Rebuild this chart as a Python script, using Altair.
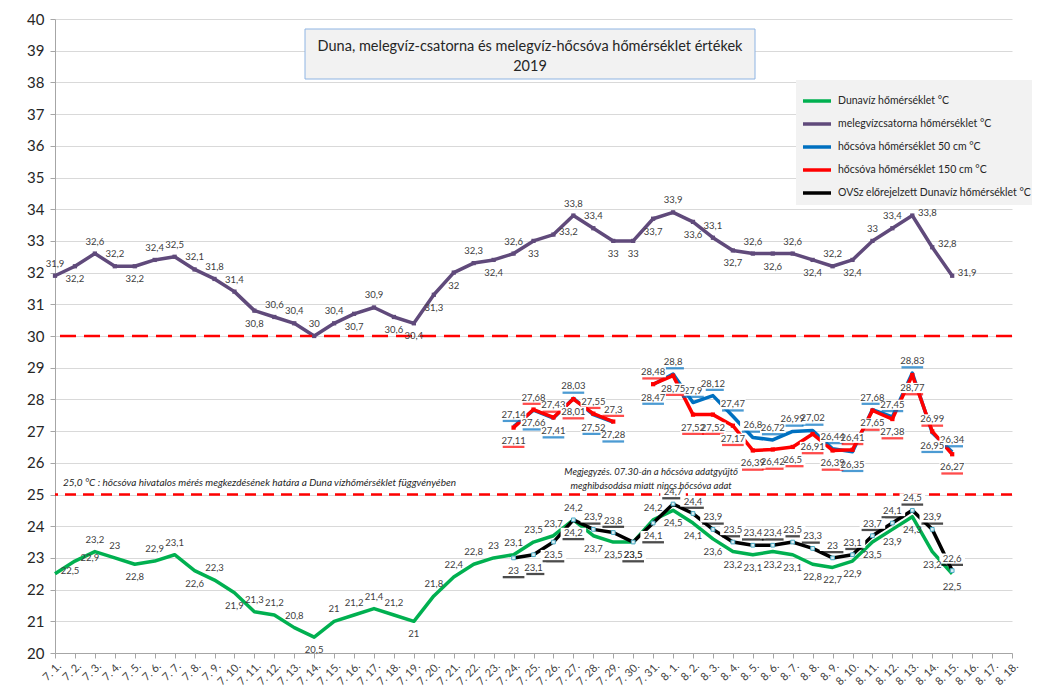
import altair as alt
import pandas as pd

FONT = "Lato"

# ---------------- data ----------------
days = [f"7. {d}." for d in range(1, 32)] + [f"8. {d}." for d in range(1, 19)]

S_GREEN = "Dunavíz hőmérséklet °C"
S_PURPLE = "melegvízcsatorna hőmérséklet °C"
S_BLUE = "hőcsóva hőmérséklet 50 cm °C"
S_RED = "hőcsóva hőmérséklet 150 cm °C"
S_BLACK = "OVSz előrejelzett Dunavíz hőmérséklet °C"
series_names = [S_GREEN, S_PURPLE, S_BLUE, S_RED, S_BLACK]
series_colors = ["#00b050", "#604a7b", "#0070c0", "#ff0000", "#000000"]

dunaviz = [22.5, 22.9, 23.2, 23.0, 22.8, 22.9, 23.1, 22.6, 22.3, 21.9, 21.3, 21.2, 20.8, 20.5, 21.0,
           21.2, 21.4, 21.2, 21.0, 21.8, 22.4, 22.8, 23.0, 23.1, 23.5, 23.7, 24.2, 23.7, 23.5, 23.5, 24.2,
           24.5, 24.1, 23.6, 23.2, 23.1, 23.2, 23.1, 22.8, 22.7, 22.9, 23.5, 23.9, 24.3, 23.2, 22.5]
melegviz = [31.9, 32.2, 32.6, 32.2, 32.2, 32.4, 32.5, 32.1, 31.8, 31.4, 30.8, 30.6, 30.4, 30.0, 30.4,
            30.7, 30.9, 30.6, 30.4, 31.3, 32.0, 32.3, 32.4, 32.6, 33.0, 33.2, 33.8, 33.4, 33.0, 33.0, 33.7,
            33.9, 33.6, 33.1, 32.7, 32.6, 32.6, 32.6, 32.4, 32.2, 32.4, 33.0, 33.4, 33.8, 32.8, 31.9]
hocsova50 = [None] * 23 + [27.14, 27.66, 27.41, 28.03, 27.52, 27.28, None, 28.47,
                           28.8, 27.9, 28.12, 27.47, 26.8, 26.72, 26.99, 27.02, 26.44, 26.35, 27.68,
                           27.45, 28.83, 26.95, 26.34]
hocsova150 = [None] * 23 + [27.11, 27.68, 27.43, 28.01, 27.55, 27.3, None, 28.48,
                            28.75, 27.52, 27.52, 27.17, 26.39, 26.42, 26.5, 26.91, 26.39, 26.41, 27.65,
                            27.38, 28.77, 26.99, 26.27]
ovsz = [None] * 23 + [23.0, 23.1, 23.5, 24.2, 23.9, 23.8, 23.5, 24.1,
                      24.7, 24.4, 23.9, 23.5, 23.4, 23.4, 23.5, 23.3, 23.0, 23.1, 23.7, 24.1, 24.5, 23.9, 22.6]

y_ticks = list(range(20, 41))
threshold_values = [30, 25]

# label sides (A = above, B = below, R = right) for the two long series
green_sides = "RRAABAABABAAABAAAABAAAAAAAABBBA" + "BBBBBBBBBBBBBBB"
purple_sides = "ABAABAAAAABAAAABABBBBABABRAABBB" + "ABABABABABAARRR"

TITLE = ["Duna, melegvíz-csatorna és melegvíz-hőcsóva hőmérséklet értékek", "2019"]
NOTE_25 = "25,0 °C : hőcsóva hivatalos mérés megkezdésének határa a Duna vízhőmérséklet függvényében"
NOTE_GAP = ["Megjegyzés. 07.30-án a  hőcsóva adatgyűjtő", "meghibásodása miatt nincs hőcsóva adat"]


def fmt(v):
    return f"{v:g}".replace(".", ",")


def pair_side(a, b, tie_above):
    if a > b:
        return "A"
    if a < b:
        return "B"
    return "A" if tie_above else "B"


rows = []
for name, vals in [(S_GREEN, dunaviz), (S_PURPLE, melegviz), (S_BLUE, hocsova50),
                   (S_RED, hocsova150), (S_BLACK, ovsz)]:
    seg = 0
    for i, v in enumerate(vals):
        if v is None:
            seg += 1
            continue
        boxed = 0
        if name == S_GREEN:
            side = green_sides[i]
        elif name == S_PURPLE:
            side = purple_sides[i]
        elif name == S_BLUE:
            side = pair_side(v, hocsova150[i], True)
            boxed = 1
        elif name == S_RED:
            side = pair_side(v, hocsova50[i], True)
            boxed = 1
        else:
            side = pair_side(v, dunaviz[i], False)
            boxed = 1
        rows.append(dict(day=days[i], series=name, value=v, seg=seg, side=side,
                         label=fmt(v), boxed=boxed))
df = pd.DataFrame(rows)

# ---------------- encodings ----------------
X = alt.X("day:N", sort=days, title=None,
          scale=alt.Scale(type="point", domain=days, padding=0),
          axis=alt.Axis(labelAngle=-45, labelFontSize=11, labelColor="#404040", tickSize=5,
                        grid=False, labelPadding=2, labelAlign="right", labelBaseline="top"))
Y_SCALE = alt.Scale(domain=[20, 40], nice=False, zero=False)
Y_AXIS = alt.Axis(values=y_ticks, tickCount=len(y_ticks), labelFontSize=15,
                  labelColor="#262626", tickSize=5, labelPadding=6, grid=True,
                  labelOverlap=False, format="d")
Y = alt.Y("value:Q", title=None, scale=Y_SCALE, axis=Y_AXIS)
COLOR = alt.Color("series:N", scale=alt.Scale(domain=series_names, range=series_colors),
                  legend=alt.Legend(title=None))

base = alt.Chart(df)

lines = base.mark_line(strokeWidth=3.5, strokeJoin="round").encode(
    x=X, y=Y, color=COLOR, detail="seg:N")

sq_markers = base.transform_filter(
    alt.FieldOneOfPredicate(field="series", oneOf=[S_PURPLE, S_RED])
).mark_point(shape="square", filled=True, size=18, opacity=1).encode(x=X, y=Y, color=COLOR)

black_markers = base.transform_filter(alt.datum.series == S_BLACK).mark_point(
    shape="square", filled=True, fill="#dbeef4", stroke="#4bacc6", strokeWidth=1,
    size=14, opacity=1).encode(x=X, y=Y)

thr_df = pd.DataFrame({"value": threshold_values, "kind": ["t30", "t25"]})
thr30 = alt.Chart(thr_df).transform_filter(alt.datum.kind == "t30").mark_rule(
    color="#ff0000", strokeWidth=2.5, strokeDash=[16, 8]).encode(y=Y)
thr25 = alt.Chart(thr_df).transform_filter(alt.datum.kind == "t25").mark_rule(
    color="#ff0000", strokeWidth=2.5, strokeDash=[11, 7]).encode(y=Y)

BOX = "M-1,-0.4L1,-0.4L1,0.4L-1,0.4Z"
BAR = "M-0.85,-0.11L0.85,-0.11L0.85,0.11L-0.85,0.11Z"
offsets = {"A": (0, -12), "B": (0, 13), "R": (15, -3)}


def label_layers(side):
    dx, dy = offsets[side]
    src = base.transform_filter(alt.datum.side == side)
    boxed = src.transform_filter(alt.datum.boxed == 1)
    bar = boxed.mark_point(shape=BAR, filled=True, size=650, strokeWidth=0, opacity=0.7,
                           xOffset=dx, yOffset=dy + 6).encode(x=X, y=Y, color=COLOR)
    box = boxed.mark_point(shape=BOX, filled=True, fill="white", size=650, strokeWidth=0,
                           opacity=1, xOffset=dx, yOffset=dy).encode(x=X, y=Y)
    txt = src.mark_text(font=FONT, fontSize=9.5, color="#404040", dx=dx, dy=dy,
                        baseline="middle").encode(x=X, y=Y, text="label:N")
    return [bar, box, txt]


label_marks = []
for s in ["A", "B", "R"]:
    label_marks += label_layers(s)

# annotation anchors (in data space)
notes_df = pd.DataFrame({"day": ["7. 1.", "7. 31."], "value": [25.37, 25.72],
                         "kind": ["n25", "gap"]})
note25 = alt.Chart(notes_df).transform_filter(alt.datum.kind == "n25").mark_text(
    text=NOTE_25, font=FONT, fontSize=10, fontStyle="italic", color="#262626",
    align="left", baseline="middle", dx=8).encode(x=X, y=Y)
note_gap = alt.Chart(notes_df).transform_filter(alt.datum.kind == "gap").mark_text(
    text=NOTE_GAP, font=FONT, fontSize=9.5, fontStyle="italic", color="#262626",
    align="center", baseline="middle", lineHeight=14, dx=-2).encode(x=X, y=Y)

one = alt.Chart(pd.DataFrame({"k": [0]}))
title_box = one.mark_rect(fill="#f2f2f2", stroke="#8eb4e3", strokeWidth=1).encode(
    x=alt.value(250), x2=alt.value(700), y=alt.value(10), y2=alt.value(60))
title_text = one.mark_text(text=TITLE, font=FONT, fontSize=14.5, color="#262626",
                           lineHeight=20, baseline="middle", align="center").encode(
    x=alt.value(475), y=alt.value(28))

chart = alt.layer(
    lines, thr30, thr25, sq_markers, black_markers, *label_marks,
    note25, note_gap, title_box, title_text
).properties(
    width=957, height=634,
    padding={"left": 47, "top": 11, "right": 20, "bottom": 36},
    autosize=alt.AutoSizeParams(type="none"),
).configure_view(strokeWidth=0).configure_axis(
    labelFont=FONT, gridColor="#d9d9d9", domainColor="#a6a6a6", tickColor="#a6a6a6"
).configure_legend(
    orient="none", legendX=741, legendY=61, fillColor="#f2f2f2", padding=5,
    symbolType="stroke", symbolStrokeWidth=3.5, symbolSize=784, rowPadding=-6,
    labelOffset=5, labelFont=FONT, labelFontSize=10.5, labelColor="#262626", labelLimit=300
)

chart.save("out.html", embed_options={"renderer": "svg", "actions": False})
